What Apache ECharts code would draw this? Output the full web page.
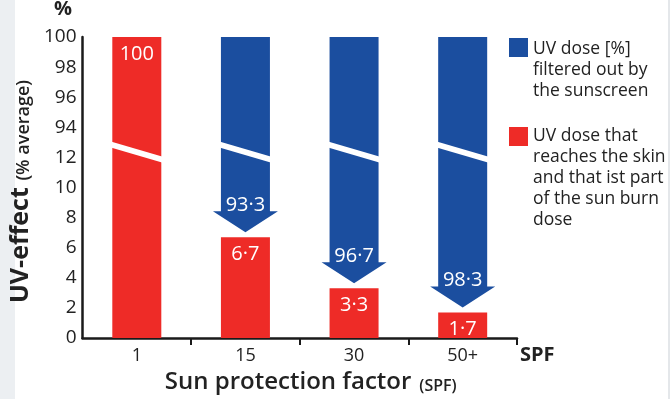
<!DOCTYPE html>
<html>
<head>
<meta charset="utf-8">
<script src="https://cdn.jsdelivr.net/npm/echarts@6/dist/echarts.min.js"></script>
<style>
  html, body { margin: 0; padding: 0; background: #fff; }
  #chart { width: 670px; height: 399px; }
</style>
</head>
<body>
<div id="chart"></div>
<script>
const categories = ["1", "15", "30", "50+"];
// UV dose that reaches the skin (%)
const skinDose = [100, 6.7, 3.3, 1.7];
// UV dose filtered out by the sunscreen (%)
const filteredDose = [null, 93.3, 96.7, 98.3];
const yTicks = [0, 2, 4, 6, 8, 10, 12, 94, 96, 98, 100];

const BLUE = "#1b4e9f";
const RED = "#ee2b27";
const FONT = "Open Sans";

// broken axis: 12 -> 94 is drawn like one 2-step
const BREAK_AT = 13;
const SHIFT = 80;
const toDisplay = (v) => (v > BREAK_AT ? v - SHIFT : v);
const fromDisplay = (v) => (v > BREAK_AT ? v + SHIFT : v);
const fmt = (v) => String(v).replace(".", "·");

const chart = echarts.init(document.getElementById("chart"));

const arrowData = filteredDose
  .map((f, i) => (f == null ? null : [i, toDisplay(100), toDisplay(100 - f), f]))
  .filter(Boolean);

const breakData = categories.map((c, i) => [i]);

const option = {
  backgroundColor: "#fff",
  animation: false,
  grid: { left: 79, right: 153, top: 37, bottom: 60 },
  xAxis: {
    type: "category",
    data: categories,
    axisLine: { lineStyle: { color: "#1a1a1a", width: 2.5 } },
    axisTick: {
      show: true,
      length: 7,
      interval: (i) => i > 0,
      lineStyle: { color: "#1a1a1a", width: 2 }
    },
    axisLabel: { color: "#222", fontSize: 18, fontFamily: FONT, margin: 9 },
    name: "{a|Sun protection factor}{b|(SPF)}",
    nameLocation: "middle",
    nameGap: 32,
    nameTextStyle: {
      rich: {
        a: {
          fontSize: 24, fontWeight: 600, color: "#222", fontFamily: FONT,
          lineHeight: 24, verticalAlign: "bottom", padding: [0, 0, 0, 22]
        },
        b: {
          fontSize: 16, fontWeight: 600, color: "#222", fontFamily: FONT,
          verticalAlign: "bottom", padding: [0, 0, 0, 8]
        }
      }
    }
  },
  yAxis: {
    type: "value",
    min: 0,
    max: toDisplay(100),
    interval: 2,
    splitLine: { show: false },
    axisTick: { show: false },
    axisLine: { show: true, lineStyle: { color: "#1a1a1a", width: 2.5 } },
    axisLabel: {
      color: "#222",
      fontSize: 19,
      fontWeight: 500,
      fontFamily: FONT,
      margin: 6,
      formatter: (v) => {
        const real = fromDisplay(v);
        return yTicks.includes(real) ? String(real) : "";
      }
    },
    name: "{a|UV-effect}  {b|(% average)}",
    nameLocation: "middle",
    nameRotate: 90,
    nameGap: 32,
    nameTextStyle: {
      rich: {
        a: { fontSize: 25, fontWeight: 700, color: "#222", fontFamily: FONT, verticalAlign: "bottom" },
        b: {
          fontSize: 18, fontWeight: 600, color: "#222", fontFamily: FONT,
          verticalAlign: "bottom", padding: [0, 8, 0, 0]
        }
      }
    }
  },
  graphic: [
    { type: "rect", left: 0, top: 0, shape: { width: 15, height: 399 }, style: { fill: "#eceff2" }, z: -10 },
    { type: "rect", right: 0, top: 0, shape: { width: 2, height: 399 }, style: { fill: "#e4e7ea" }, z: -10 },
    {
      type: "text", left: 54, top: -1,
      style: { text: "%", fontSize: 20, fontWeight: 700, fill: "#222", fontFamily: FONT }
    },
    {
      type: "text", left: 520, top: 345,
      style: { text: "SPF", fontSize: 20, fontWeight: 700, fill: "#222", fontFamily: FONT }
    },
    { type: "rect", left: 509, top: 38, shape: { width: 19, height: 19 }, style: { fill: BLUE } },
    {
      type: "text", left: 533, top: 39,
      style: {
        text: "UV dose [%]\nfiltered out by\nthe sunscreen",
        fontSize: 17.5, lineHeight: 21, fill: "#222", fontFamily: FONT
      }
    },
    { type: "rect", left: 509, top: 127, shape: { width: 19, height: 19 }, style: { fill: RED } },
    {
      type: "text", left: 533, top: 126,
      style: {
        text: "UV dose that\nreaches the skin\nand that ist part\nof the sun burn\ndose",
        fontSize: 17.5, lineHeight: 21, fill: "#222", fontFamily: FONT
      }
    }
  ],
  series: [
    {
      name: "UV dose that reaches the skin",
      type: "bar",
      barWidth: 49,
      data: skinDose.map(toDisplay),
      itemStyle: { color: RED },
      label: {
        show: true,
        position: "insideTop",
        distance: 7,
        color: "#fff",
        fontSize: 20,
        fontFamily: FONT,
        formatter: (p) => fmt(skinDose[p.dataIndex])
      },
      z: 2
    },
    {
      name: "UV dose filtered out by the sunscreen",
      type: "custom",
      data: arrowData,
      z: 3,
      renderItem: (params, api) => {
        const top = api.coord([api.value(0), api.value(1)]);
        const bottom = api.coord([api.value(0), api.value(2)]);
        const cx = top[0];
        const tipY = bottom[1] - 5;
        const headH = 21;
        const hw = 24.5;
        const hh = 32.5;
        const baseY = tipY - headH;
        return {
          type: "group",
          children: [
            {
              type: "polygon",
              shape: {
                points: [
                  [cx - hw, top[1]], [cx + hw, top[1]], [cx + hw, baseY], [cx + hh, baseY],
                  [cx, tipY], [cx - hh, baseY], [cx - hw, baseY]
                ]
              },
              style: { fill: BLUE }
            },
            {
              type: "text",
              x: cx,
              y: baseY + 4,
              style: {
                text: fmt(api.value(3)),
                fill: "#fff",
                fontSize: 20,
                fontFamily: FONT,
                align: "center",
                verticalAlign: "bottom"
              }
            }
          ]
        };
      }
    },
    {
      type: "custom",
      data: breakData,
      z: 4,
      silent: true,
      renderItem: (params, api) => {
        const i = api.value(0);
        const l = api.coord([i, 12.85]);
        const r = api.coord([i, 11.85]);
        const hw = 26;
        return {
          type: "polygon",
          shape: {
            points: [
              [l[0] - hw, l[1] - 3], [r[0] + hw, r[1] - 3],
              [r[0] + hw, r[1] + 3], [l[0] - hw, l[1] + 3]
            ]
          },
          style: { fill: "#fff" }
        };
      }
    }
  ]
};

chart.setOption(option);
</script>
</body>
</html>
